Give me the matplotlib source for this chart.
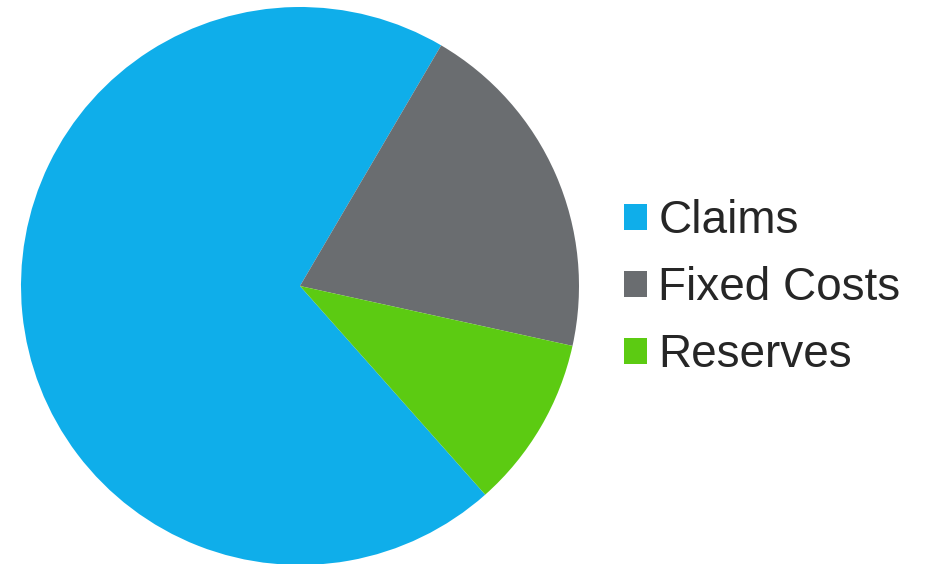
import matplotlib.pyplot as plt

labels = ['Claims', 'Fixed Costs', 'Reserves']
values = [70, 20, 10]
colors = ['#0FAEEA', '#6A6D70', '#5CCB12']

plt.rcParams['font.family'] = ['Liberation Sans', 'DejaVu Sans']

fig = plt.figure(figsize=(9.32, 5.64), dpi=100)
cx, cy, r = 300, 286, 279
ax = fig.add_axes([(cx - r) / 932, (564 - cy - r) / 564, 2 * r / 932, 2 * r / 564])

wedges, _ = ax.pie(values, colors=colors, startangle=-48.4, counterclock=False,
                   radius=1, wedgeprops={'linewidth': 0})
ax.set_xlim(-1, 1)
ax.set_ylim(-1, 1)
ax.set_aspect('equal')
ax.axis('off')

fig.legend(wedges, labels, loc='center left', bbox_to_anchor=(624 / 932, 1 - 288 / 564),
           frameon=False, fontsize=33, handlelength=0.5, handleheight=0.5,
           handletextpad=0.25, labelspacing=0.5, borderaxespad=0, borderpad=0,
           labelcolor='#262626')

fig.savefig('out.png', dpi=100)
